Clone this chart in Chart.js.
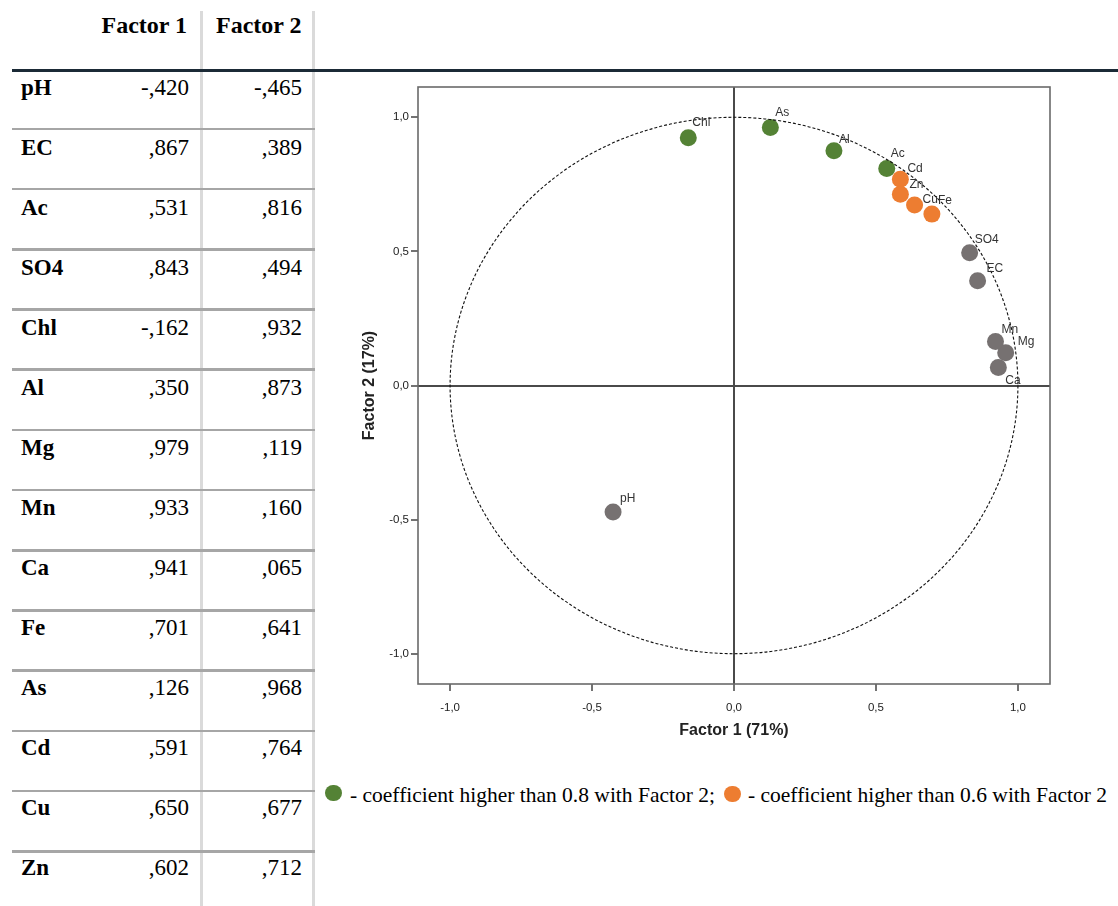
<!DOCTYPE html>
<html><head><meta charset="utf-8">
<script src="https://cdn.jsdelivr.net/npm/chart.js@4.4.1/dist/chart.umd.min.js"></script>
<style>
html,body{margin:0;padding:0;background:#fff;}
#page{position:relative;width:1118px;height:906px;overflow:hidden;background:#fff;}
.t{position:absolute;line-height:1;white-space:nowrap;font-family:'Liberation Serif','Times New Roman',serif;color:#000;}
.b{font-weight:bold;}
.ln{position:absolute;}
#chartBox{position:absolute;left:330px;top:75px;width:788px;height:670px;}
.dot{position:absolute;border-radius:50%;}
</style></head>
<body><div id="page"><div id="chartBox"><canvas id="c" width="788" height="670"></canvas></div></div>
<script>
// ---- data ----
const variables   = ['pH','EC','Ac','SO4','Chl','Al','Mg','Mn','Ca','Fe','As','Cd','Cu','Zn'];
const factor1Text = ['-,420',',867',',531',',843','-,162',',350',',979',',933',',941',',701',',126',',591',',650',',602'];
const factor2Text = ['-,465',',389',',816',',494',',932',',873',',119',',160',',065',',641',',968',',764',',677',',712'];
// positions
const plotFactor1 = [-0.426, 0.858, 0.538, 0.830, -0.161, 0.352, 0.957, 0.921, 0.931, 0.697, 0.128, 0.586, 0.636, 0.586];
const plotFactor2 = [-0.472, 0.391, 0.809, 0.495, 0.924, 0.875, 0.122, 0.164, 0.067, 0.639, 0.962, 0.769, 0.673, 0.713];
const groups      = ['gray','gray','green','gray','green','green','gray','gray','gray','orange','green','orange','orange','orange'];
const headers     = ['Factor 1','Factor 2'];
const xTickValues = [-1, -0.5, 0, 0.5, 1];
const xTickLabels = ['-1,0','-0,5','0,0','0,5','1,0'];
const yTickValues = [-1, -0.5, 0, 0.5, 1];
const yTickLabels = ['-1,0','-0,5','0,0','0,5','1,0'];
const xTitle = 'Factor 1 (71%)';
const yTitle = 'Factor 2 (17%)';
const legendTexts = ['- coefficient higher than 0.8 with Factor 2;', '- coefficient higher than 0.6 with Factor 2'];
const circleRadius = 1;

// ---- styles ----
const colorMap = {green:'#548235', orange:'#ED7D31', gray:'#767171'};
const defaultOffset = {dx:5, dy:-13};
const labelOffsets = {pH:{dx:7,dy:-13}, EC:{dx:9,dy:-12}, Ac:{dx:4,dy:-15}, SO4:{dx:5,dy:-13}, Chl:{dx:4,dy:-15},
  Al:{dx:5,dy:-11}, Mg:{dx:12,dy:-11}, Mn:{dx:6,dy:-12}, Ca:{dx:7,dy:13}, Fe:{dx:6,dy:-13}, As:{dx:5,dy:-15},
  Cd:{dx:7,dy:-11}, Cu:{dx:8,dy:-5}, Zn:{dx:9,dy:-10}};

// ---- table ----
const page = document.getElementById('page');
function box(cls, css, text){ const d=document.createElement('div'); d.className=cls; d.style.cssText=css; if(text!==undefined) d.textContent=text; page.appendChild(d); return d; }
const ASC = 0.8375;
[200,312].forEach(x=>box('ln',`left:${x}px;top:11px;width:3px;height:895px;background:#dadada;`));
for(let k=0;k<variables.length-1;k++){ const c=128.85+60.2*k; box('ln',`left:12px;top:${(c-1.25).toFixed(2)}px;width:303px;height:2.5px;background:#a6a6a6;`); }
box('ln','left:12px;top:68.5px;width:1106px;height:3px;background:#1b2a36;');
const hs=24;
box('t b',`right:${1118-187}px;top:${(33.3-ASC*hs).toFixed(2)}px;font-size:${hs}px;`, headers[0]);
box('t b',`right:${1118-301.5}px;top:${(33.3-ASC*hs).toFixed(2)}px;font-size:${hs}px;`, headers[1]);
const fs=23;
variables.forEach((v,i)=>{
  const base = 95 + 60.0*i; const top=(base-ASC*fs).toFixed(2);
  box('t b',`left:21px;top:${top}px;font-size:${fs}px;`, v);
  box('t',`right:${1118-189}px;top:${top}px;font-size:${fs}px;`, factor1Text[i]);
  box('t',`right:${1118-302}px;top:${top}px;font-size:${fs}px;`, factor2Text[i]);
});
const ls=21.5, lbase=803;
box('dot',`left:325.3px;top:785.1px;width:16.4px;height:16.4px;background:${colorMap.green};`);
box('t',`left:350px;top:${(lbase-ASC*ls).toFixed(2)}px;font-size:${ls}px;`, legendTexts[0]);
box('dot',`left:724.3px;top:785.8px;width:16.4px;height:16.4px;background:${colorMap.orange};`);
box('t',`left:748px;top:${(lbase-ASC*ls).toFixed(2)}px;font-size:${ls}px;`, legendTexts[1]);

// ---- chart ----
const overlay = {id:'overlay', afterDatasetsDraw(chart){
  const {ctx, chartArea:a, scales:{x,y}} = chart;
  ctx.save();
  const cx=x.getPixelForValue(0), cy=y.getPixelForValue(0);
  const rx=x.getPixelForValue(circleRadius)-cx, ry=cy-y.getPixelForValue(circleRadius);
  ctx.setLineDash([3,2]); ctx.lineWidth=1.1; ctx.strokeStyle='#111';
  ctx.beginPath(); ctx.ellipse(cx,cy,rx,ry,0,0,Math.PI*2); ctx.stroke();
  ctx.setLineDash([]);
  const meta=chart.getDatasetMeta(0);
  ctx.font='12px "Liberation Sans", Arial, sans-serif'; ctx.fillStyle='#333'; ctx.textAlign='left'; ctx.textBaseline='middle';
  meta.data.forEach((pt,i)=>{ const o=labelOffsets[variables[i]]||defaultOffset; ctx.fillText(variables[i], pt.x+o.dx, pt.y+o.dy); });
  ctx.lineWidth=1.6; ctx.strokeStyle='#6a6a6a';
  ctx.strokeRect(a.left, a.top, a.right-a.left, a.bottom-a.top);
  ctx.restore();
}};
const tickFont={family:'"Liberation Sans", Arial, sans-serif', size:11.5};
const titleFont={family:'"Liberation Sans", Arial, sans-serif', size:16, weight:'bold'};
const zeroGrid = ctx => (ctx.tick && ctx.tick.value===0) ? '#4a4a4a' : 'rgba(0,0,0,0)';
new Chart(document.getElementById('c'), {
  type:'scatter',
  data:{datasets:[{
    data: variables.map((v,i)=>({x:plotFactor1[i], y:plotFactor2[i]})),
    backgroundColor: groups.map(g=>colorMap[g]),
    borderWidth:0, pointRadius:8.5, pointHoverRadius:8.5
  }]},
  options:{
    responsive:false, animation:false, devicePixelRatio:1,
    layout:{padding:{top:12,right:68,left:0,bottom:0}},
    plugins:{legend:{display:false}, tooltip:{enabled:false}},
    scales:{
      x:{type:'linear', min:-1.113, max:1.113,
        afterFit(s){ s.height=61; },
        afterBuildTicks(s){ s.ticks=xTickValues.map(v=>({value:v})); },
        ticks:{callback:v=>xTickLabels[xTickValues.indexOf(v)], font:tickFont, color:'#222', padding:10, maxRotation:0, autoSkip:false},
        grid:{color:zeroGrid, lineWidth:2, tickColor:'#444', tickLength:7, tickWidth:1.5, drawOnChartArea:true},
        border:{display:false},
        title:{display:true, text:xTitle, font:titleFont, color:'#222', padding:{top:0,bottom:5}}
      },
      y:{type:'linear', min:-1.113, max:1.113,
        afterFit(s){ s.width=88; },
        afterBuildTicks(s){ s.ticks=yTickValues.map(v=>({value:v})); },
        ticks:{callback:v=>yTickLabels[yTickValues.indexOf(v)], font:tickFont, color:'#222', padding:2, autoSkip:false},
        grid:{color:zeroGrid, lineWidth:2, tickColor:'#444', tickLength:7, tickWidth:1.5},
        border:{display:false},
        title:{display:true, text:yTitle, font:titleFont, color:'#222', padding:{top:30,bottom:0}}
      }
    }
  },
  plugins:[overlay]
});
</script></body></html>
